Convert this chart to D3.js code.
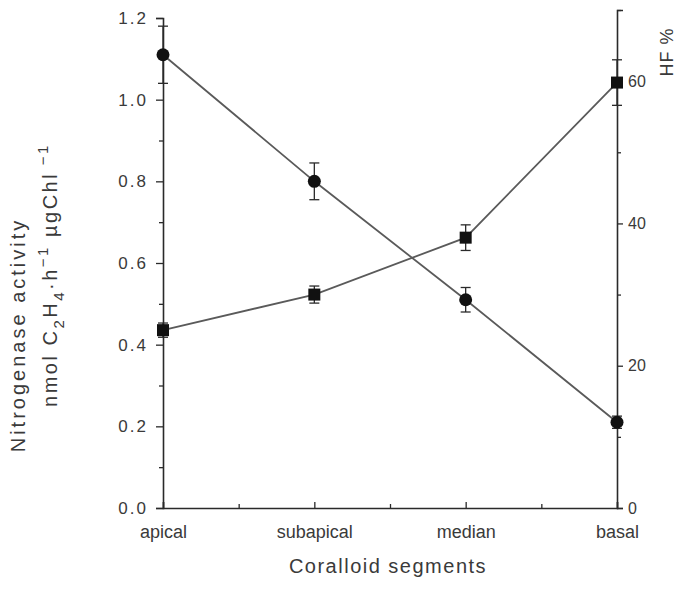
<!DOCTYPE html>
<html>
<head>
<meta charset="utf-8">
<script src="https://cdn.jsdelivr.net/npm/d3@7/dist/d3.min.js"></script>
<style>
  body { margin: 0; background: #fff; }
  svg text { font-family: "Liberation Sans", Arial, sans-serif; fill: #3a3a3a; }
</style>
</head>
<body>
<div id="chart"></div>
<script>
const width = 700;
const height = 603;

// data
const segments = ["apical", "subapical", "median", "basal"];
const activity = [1.11, 0.80, 0.51, 0.21];        // nmol C2H4 h-1 ugChl-1 (circles, left axis)
const activityErr = [0.07, 0.045, 0.03, 0.015];
const hf = [25.0, 30.0, 38.0, 59.8];              // HF % (squares, right axis)
const hfErr = [1.0, 1.2, 1.8, 3.2];
const leftTicks = [0, 0.2, 0.4, 0.6, 0.8, 1.0, 1.2];
const leftMinor = [0.1, 0.3, 0.5, 0.7, 0.9, 1.1];
const rightTicks = [0, 20, 40, 60];
const rightMinor = [10, 30, 50, 70];

const margin = {left: 163, right: 83, bottom: 95};
const x0 = margin.left, x1 = width - margin.right;
const yBottom = height - margin.bottom;

const x = d3.scalePoint().domain(segments).range([x0, x1]).padding(0);
const yL = d3.scaleLinear().domain([0, 1.2]).range([yBottom, 18]);
const yR = d3.scaleLinear().domain([0, 70]).range([yBottom, 10]);

const svg = d3.select('#chart')
    .append("svg")
    .attr('width', width)
    .attr('height', height);

const ink = "#2a2a2a";

// left axis
const gL = svg.append("g").attr("transform", `translate(${x0},0)`);
gL.call(d3.axisLeft(yL).tickValues(leftTicks).tickFormat(d3.format(".1f")).tickSize(7).tickPadding(8));
gL.append("g").call(d3.axisLeft(yL).tickValues(leftMinor).tickFormat("").tickSize(4))
    .select(".domain").remove();
gL.selectAll(".domain").attr("stroke", ink).attr("stroke-width", 1.6);
gL.selectAll(".tick line").attr("stroke", ink).attr("stroke-width", 1.3);
gL.selectAll("text").style("font-size", "17px").style("letter-spacing", "2px").attr("fill", "#444");

// right axis
const gR = svg.append("g").attr("transform", `translate(${x1},0)`);
gR.call(d3.axisRight(yR).tickValues(rightTicks).tickFormat(d3.format("d")).tickSize(6).tickPadding(5));
gR.append("g").call(d3.axisRight(yR).tickValues(rightMinor).tickFormat("").tickSize(4))
    .select(".domain").remove();
gR.selectAll(".domain").attr("stroke", ink).attr("stroke-width", 1.6);
gR.selectAll(".tick line").attr("stroke", ink).attr("stroke-width", 1.3);
gR.selectAll("text").style("font-size", "16px").attr("fill", "#444");

// bottom axis, ticks pointing inward
const minorX = d3.pairs(segments.map(s => x(s))).map(p => (p[0] + p[1]) / 2);
const gB = svg.append("g").attr("transform", `translate(0,${yBottom})`);
gB.call(d3.axisBottom(x).tickSize(-6).tickPadding(17));
gB.append("g").call(d3.axisBottom(d3.scaleIdentity()).tickValues(minorX).tickFormat("").tickSize(-4))
    .select(".domain").remove();
gB.selectAll(".domain").attr("stroke", ink).attr("stroke-width", 1.6);
gB.selectAll(".tick line").attr("stroke", ink).attr("stroke-width", 1.3);
gB.selectAll("text").style("font-size", "18px").attr("fill", "#3a3a3a");

// connecting lines
const lineL = d3.line().x((d, i) => x(segments[i])).y(d => yL(d));
const lineR = d3.line().x((d, i) => x(segments[i])).y(d => yR(d));
svg.append("path").datum(activity).attr("d", lineL)
    .attr("fill", "none").attr("stroke", "#5a5a5a").attr("stroke-width", 1.8);
svg.append("path").datum(hf).attr("d", lineR)
    .attr("fill", "none").attr("stroke", "#5a5a5a").attr("stroke-width", 1.8);

// error bars
function errorBars(vals, errs, y, cls) {
    const g = svg.append("g").attr("class", cls);
    vals.forEach((v, i) => {
        const cx = x(segments[i]);
        const top = y(v + errs[i]), bot = y(v - errs[i]);
        g.append("line").attr("x1", cx).attr("x2", cx).attr("y1", top).attr("y2", bot)
            .attr("stroke", ink).attr("stroke-width", 1.3);
        [top, bot].forEach(yy => g.append("line")
            .attr("x1", cx - 5).attr("x2", cx + 5).attr("y1", yy).attr("y2", yy)
            .attr("stroke", ink).attr("stroke-width", 1.3));
    });
}
errorBars(activity, activityErr, yL, "err-act");
errorBars(hf, hfErr, yR, "err-hf");

// markers
svg.append("g").selectAll("circle")
    .data(activity)
    .enter().append("circle")
    .attr("cx", (d, i) => x(segments[i]))
    .attr("cy", d => yL(d))
    .attr("r", 6.5)
    .attr("fill", "#111");

svg.append("g").selectAll("rect")
    .data(hf)
    .enter().append("rect")
    .attr("x", (d, i) => x(segments[i]) - 6)
    .attr("y", d => yR(d) - 6)
    .attr("width", 12)
    .attr("height", 12)
    .attr("fill", "#111");

// axis titles
svg.append("text")
    .attr("transform", `translate(25,335) rotate(-90)`)
    .attr("text-anchor", "middle")
    .style("font-size", "20px")
    .style("letter-spacing", "3px")
    .text("Nitrogenase activity");

const unit = svg.append("text")
    .attr("transform", `translate(57,275) rotate(-90)`)
    .attr("text-anchor", "middle")
    .style("font-size", "20px")
    .style("letter-spacing", "2.5px");
unit.append("tspan").text("nmol C");
unit.append("tspan").attr("dy", 7).style("font-size", "15px").text("2");
unit.append("tspan").attr("dy", -7).text("H");
unit.append("tspan").attr("dy", 7).style("font-size", "15px").text("4");
unit.append("tspan").attr("dy", -7).text("·h");
unit.append("tspan").attr("dy", -9).style("font-size", "15px").text("−1");
unit.append("tspan").attr("dy", 9).text(" µgChl");
unit.append("tspan").attr("dy", -9).style("font-size", "15px").text(" −1");

svg.append("text")
    .attr("transform", `translate(673,52) rotate(-90)`)
    .attr("text-anchor", "middle")
    .style("font-size", "18px")
    .style("letter-spacing", "1px")
    .text("HF %");

svg.append("text")
    .attr("x", 388)
    .attr("y", yBottom + 65)
    .attr("text-anchor", "middle")
    .style("font-size", "20px")
    .style("letter-spacing", "1.5px")
    .text("Coralloid segments");
</script>
</body>
</html>
